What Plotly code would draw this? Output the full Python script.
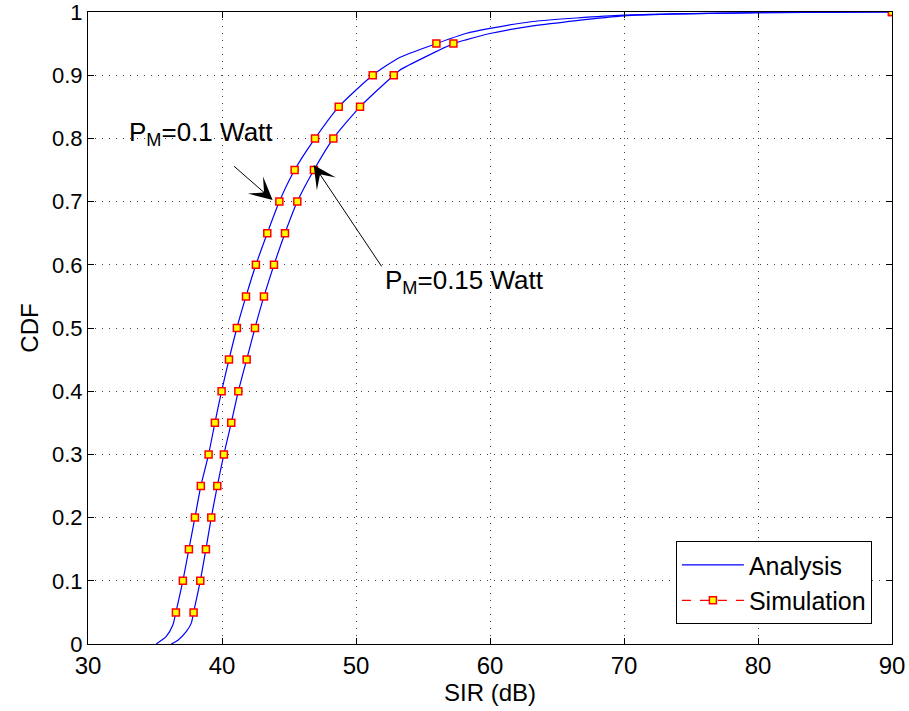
import plotly.graph_objects as go

# Analysis curves
ana1_x = [35.09, 35.84, 36.33, 36.56, 37.08, 37.53, 37.98, 38.42, 39.00, 39.47, 39.97,
          40.52, 41.11, 41.79, 42.53, 43.38, 44.28, 45.42, 46.94, 48.71, 51.25, 53.26,
          56.0, 58.2, 60.0, 63.2, 70.0, 80.0, 90.0]
ana1_y = [0.0, 0.012, 0.030, 0.05, 0.10, 0.15, 0.20, 0.25, 0.30, 0.35, 0.40,
          0.45, 0.50, 0.55, 0.60, 0.65, 0.70, 0.75, 0.80, 0.85, 0.90, 0.928,
          0.95, 0.966, 0.974, 0.985, 0.995, 0.999, 1.0]
ana2_x = [36.21, 36.71, 37.33, 37.71, 37.88, 38.38, 38.80, 39.20, 39.65, 40.14, 40.69,
          41.22, 41.84, 42.46, 43.13, 43.88, 44.70, 45.62, 46.86, 48.31, 50.30, 52.82,
          53.26, 57.27, 58.2, 60.0, 63.2, 70.0, 80.0, 90.0]
ana2_y = [0.0, 0.006, 0.0195, 0.033, 0.05, 0.10, 0.15, 0.20, 0.25, 0.30, 0.35,
          0.40, 0.45, 0.50, 0.55, 0.60, 0.65, 0.70, 0.75, 0.80, 0.85, 0.90,
          0.908, 0.95, 0.956, 0.966, 0.978, 0.994, 0.999, 1.0]

# Simulation points
sim_y = [0.05, 0.10, 0.15, 0.20, 0.25, 0.30, 0.35, 0.40, 0.45, 0.50, 0.55, 0.60,
         0.65, 0.70, 0.75, 0.80, 0.85, 0.90, 0.95, 1.0]
sim1_x = [36.56, 37.08, 37.53, 37.98, 38.42, 39.00, 39.47, 39.97, 40.52, 41.11, 41.79,
          42.53, 43.38, 44.28, 45.42, 46.94, 48.71, 51.25, 56.0, 90.0]
sim2_x = [37.88, 38.38, 38.80, 39.20, 39.65, 40.14, 40.69, 41.22, 41.84, 42.46, 43.13,
          43.88, 44.70, 45.62, 46.86, 48.31, 50.30, 52.82, 57.27, 90.0]

x_ticks = [30, 40, 50, 60, 70, 80, 90]
y_ticks = [0, 0.1, 0.2, 0.3, 0.4, 0.5, 0.6, 0.7, 0.8, 0.9, 1]
y_tick_text = ["0", "0.1", "0.2", "0.3", "0.4", "0.5", "0.6", "0.7", "0.8", "0.9", "1"]

FONT = "Liberation Sans, Arial, sans-serif"
BLUE = "rgb(0,0,255)"
RED = "rgb(255,0,0)"
YEL = "rgb(255,255,0)"

fig = go.Figure()

for i, (xs, ys) in enumerate([(ana1_x, ana1_y), (ana2_x, ana2_y)]):
    fig.add_trace(go.Scatter(x=xs, y=ys, mode="lines",
                             line=dict(color=BLUE, width=1.2, shape="spline", smoothing=0.6),
                             name="Analysis", legendgroup="a", showlegend=(i == 0),
                             legendrank=1))

for xs in (sim1_x, sim2_x):
    fig.add_trace(go.Scatter(x=xs, y=sim_y, mode="markers",
                             marker=dict(symbol="square", size=7, color=YEL,
                                         line=dict(color=RED, width=1.5)),
                             showlegend=False, legendgroup="s"))

# legend-only entry for simulation style
fig.add_trace(go.Scatter(x=[None], y=[None], mode="lines+markers", name="Simulation",
                         line=dict(color=RED, width=1.2, dash="dash"),
                         marker=dict(symbol="square", size=7, color=YEL,
                                     line=dict(color=RED, width=1.5)),
                         legendgroup="s", legendrank=2))

axis_common = dict(showline=True, linecolor="black", linewidth=1, mirror="ticks",
                   ticks="inside", ticklen=6, tickcolor="black",
                   showgrid=True, gridcolor="rgba(0,0,0,0.75)", gridwidth=1,
                   griddash="1px,6px", zeroline=False, automargin=False,
                   ticklabeloverflow="allow")

fig.update_xaxes(range=[30, 90], tickvals=x_ticks,
                 tickfont=dict(family=FONT, size=24, color="black"),
                 title=dict(text="SIR (dB)", font=dict(family=FONT, size=24, color="black"),
                            standoff=4),
                 **axis_common)
fig.update_yaxes(range=[0, 1], tickvals=y_ticks, ticktext=y_tick_text,
                 tickfont=dict(family=FONT, size=22, color="black"),
                 title=dict(text="CDF", font=dict(family=FONT, size=24, color="black"),
                            standoff=6),
                 **axis_common)

ann_font = dict(family=FONT, size=26, color="black")
fig.add_annotation(x=32.88, y=0.808, xref="x", yref="y", text="P<sub>M</sub>=0.1 Watt",
                   showarrow=False, xanchor="left", yanchor="middle", font=ann_font)
fig.add_annotation(x=52.0, y=0.574, xref="x", yref="y", text="P<sub>M</sub>=0.15 Watt",
                   showarrow=False, xanchor="left", yanchor="middle", font=ann_font)
fig.add_annotation(x=43.78, y=0.7025, xref="x", yref="y", text="", showarrow=True,
                   ax=-40, ay=-35, arrowhead=3, arrowsize=3.8, arrowwidth=1,
                   arrowcolor="black", standoff=0)
fig.add_annotation(x=46.84, y=0.758, xref="x", yref="y", text="", showarrow=True,
                   ax=69, ay=103, arrowhead=3, arrowsize=3.8, arrowwidth=1,
                   arrowcolor="black", standoff=0)

fig.update_layout(
    width=909, height=711,
    margin=dict(l=88, r=17, t=12, b=67, autoexpand=False),
    paper_bgcolor="white", plot_bgcolor="white",
    font=dict(family=FONT, color="black"),
    legend=dict(x=0.975, y=0.0316, xanchor="right", yanchor="bottom",
                bgcolor="white", bordercolor="black", borderwidth=1,
                font=dict(family=FONT, size=25, color="black"),
                tracegroupgap=0, itemwidth=62),
)

fig.write_html("out.html")
